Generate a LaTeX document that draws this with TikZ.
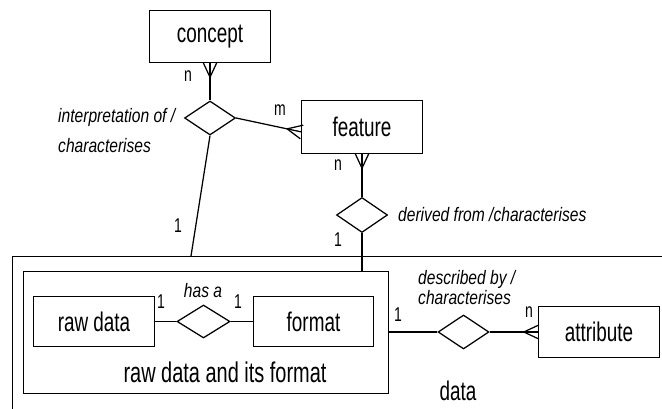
\documentclass[tikz,border=0pt]{standalone}
\usepackage{fontspec}
\setmainfont{Liberation Sans}
\newfontfamily\boxfont{Liberation Sans}[FakeStretch=0.7]
\newfontfamily\relfont{Liberation Sans}[FakeStretch=0.8]
\usetikzlibrary{shapes.geometric,calc}

% crow's foot (many side) at an entity: #1 = point on the entity border,
% #2 = point the relationship line comes from
\newcommand\crowfoot[2]{%
  \draw[erline] ($(#1)!7pt!90:(#2)$) -- ($(#1)!15pt!(#2)$) -- ($(#1)!7pt!-90:(#2)$);}
% frame around a named node
\newcommand\frameit[1]{\draw[erline] (#1.north west) rectangle (#1.south east);}

\begin{document}
\begin{tikzpicture}[x=1pt,y=-1pt,
  erline/.style={line width=1.25pt, line join=miter},
  entity/.style={inner sep=0, minimum width=120pt, minimum height=51pt,
    font=\boxfont\fontsize{27}{32}\selectfont},
  rel/.style={draw, diamond, line width=1.25pt, inner sep=0, minimum width=51pt, minimum height=34pt},
  card/.style={font=\boxfont\fontsize{20}{24}\selectfont, inner sep=0},
  role/.style={font=\relfont\itshape\fontsize{19.5}{23}\selectfont, inner sep=0, align=left},
  group/.style={draw, line width=1.25pt, inner sep=0}]

\clip (0,0) rectangle (662,409);

% outer aggregate "data" (runs off the page to the right and bottom)
\node[group, anchor=north west, minimum width=668pt, minimum height=174pt] (data) at (12,256) {};
\coordinate (dtop) at ($(data.north west)+(179,0)$);
\node[card, font=\boxfont\fontsize{27}{32}\selectfont, anchor=base] (datalbl) at (458,400) {data};

% inner aggregate "raw data and its format"
\node[group, anchor=north west, minimum width=365pt, minimum height=122pt] (rawfmt) at (23,271) {};
\node[card, font=\boxfont\fontsize{28.5}{33}\selectfont, anchor=base] (rawfmtlbl) at (225,382) {raw data and its format};

% entities
\node[entity] (concept) at (210,36.5) {concept};
\node[entity, minimum height=52pt] (feature) at (362,127) {feature};
\node[entity, minimum height=49pt] (raw) at (94,321.5) {raw data};
\node[entity, minimum width=119pt, minimum height=50pt] (format) at (313.5,321.5) {format};
\node[entity] (attribute) at (599,332) {attribute};
\frameit{concept}
\frameit{feature}
\frameit{raw}
\frameit{format}
\frameit{attribute}

% relationships
\node[rel] (interp) at (210,118) {};
\node[rel, minimum height=35pt] (derived) at (362,215) {};
\node[rel, minimum width=53pt, minimum height=33pt] (hasa) at (203.5,321.5) {};
\node[rel] (descr) at (463.5,332) {};

% connectors
\coordinate (fw) at ($(feature.west)+(0,5)$);
\draw[erline] (interp.north) -- (concept.south);
\crowfoot{concept.south}{interp.north}
\draw[erline] (interp.east) -- (fw);
\crowfoot{fw}{interp.east}
\draw[erline] (interp.south) -- (dtop);
\draw[erline] (derived.north) -- (feature.south);
\crowfoot{feature.south}{derived.north}
\draw[erline] (derived.south) -- (derived.south |- rawfmt.north);
\draw[erline] (raw.east) -- (hasa.west);
\draw[erline] (hasa.east) -- (format.west);
\draw[erline] (rawfmt.east |- descr.west) -- (descr.west);
\draw[erline] (descr.east) -- (attribute.west);
\crowfoot{attribute.west}{descr.east}

% cardinalities
\node[card] (c1) at (188,76) {n};
\node[card] (c2) at (280,110) {m};
\node[card] (c3) at (178,226) {1};
\node[card] (c4) at (338,165) {n};
\node[card] (c5) at (338,240) {1};
\node[card] (c6) at (161,302) {1};
\node[card] (c7) at (238,302) {1};
\node[card] (c8) at (398,315) {1};
\node[card] (c9) at (529,312) {n};

% relationship names
\node[role, anchor=west] (r1a) at (58,117) {interpretation of /};
\node[role, anchor=west] (r1b) at (58,146) {characterises};
\node[role, anchor=west] (r2) at (398,215) {derived from /characterises};
\node[role] (r3) at (203,291) {has a};
\node[role, anchor=west] (r4a) at (418,279) {described by /};
\node[role, anchor=west] (r4b) at (418,298) {characterises};
\end{tikzpicture}
\end{document}
